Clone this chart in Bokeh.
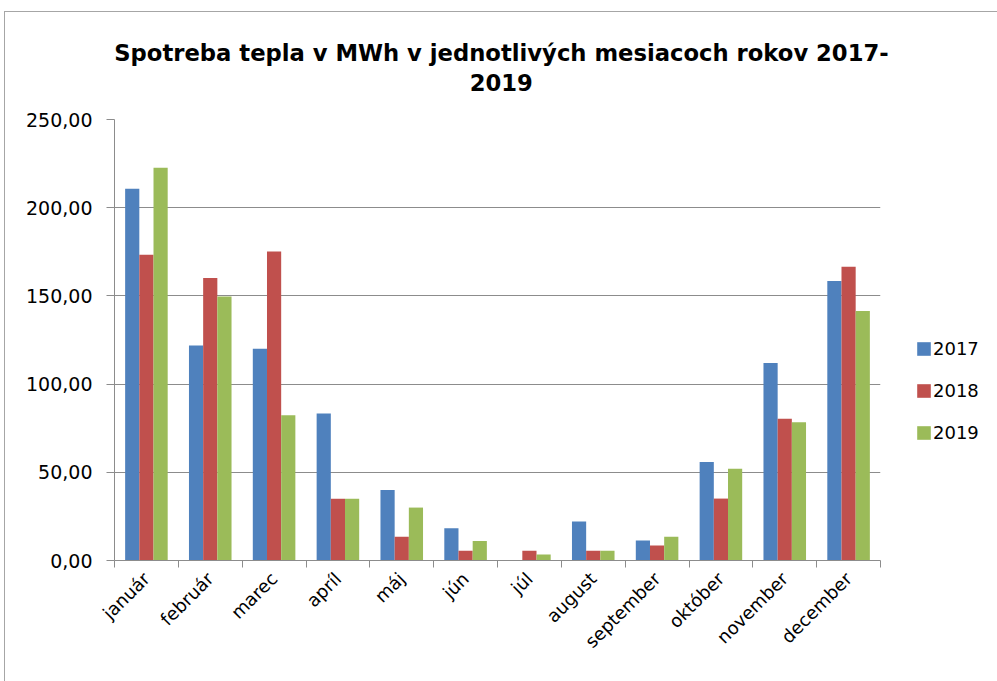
import math
from bokeh.plotting import figure
from bokeh.models import FixedTicker, Range1d, ColumnDataSource, Legend, LegendItem
from bokeh.embed import file_html
from bokeh.resources import INLINE
from bokeh.transform import dodge

months = ["január", "február", "marec", "apríl", "máj", "jún", "júl",
          "august", "september", "október", "november", "december"]
years = ["2017", "2018", "2019"]
v2017 = [210.7, 121.9, 120.0, 83.3, 40.0, 18.3, 0.0, 22.1, 11.3, 55.9, 112.0, 158.5]
v2018 = [173.3, 160.2, 175.2, 35.0, 13.4, 5.5, 5.5, 5.5, 8.5, 35.1, 80.3, 166.5]
v2019 = [222.6, 149.7, 82.4, 35.0, 30.0, 11.1, 3.4, 5.5, 13.4, 52.0, 78.4, 141.5]
y_ticks = [0, 50, 100, 150, 200, 250]
y_tick_labels = ["0,00", "50,00", "100,00", "150,00", "200,00", "250,00"]
colors = ["#4F81BD", "#C0504D", "#9BBB59"]
title_line1 = "Spotreba tepla v MWh v jednotlivých mesiacoch rokov 2017-"
title_line2 = "2019"

pos = [i + 0.5 for i in range(len(months))]
src = ColumnDataSource(dict(x=pos, y2017=v2017, y2018=v2018, y2019=v2019))

FONT = "DejaVu Sans"
GRAY = "#8c8c8c"
NB = "\u00a0"

p = figure(frame_width=766, frame_height=441,
           min_border_left=109, min_border_right=117,
           min_border_top=107, min_border_bottom=121,
           x_range=Range1d(0, len(months)), y_range=Range1d(0, 250),
           output_backend="svg", toolbar_location=None,
           background_fill_color="white", border_fill_color="white")
p.outline_line_color = None
p.styles = {"border-left": "1px solid #a6a6a6", "border-top": "1px solid #a6a6a6",
            "margin-left": "4px", "margin-top": "11px"}

# two-line centred title (second line centred under the first)
p.title.text = NB + title_line1 + "\n" + NB * 46 + title_line2
p.title.text_font = FONT
p.title.text_font_size = "22.7px"
p.title.text_font_style = "bold"
p.title.align = "center"
p.title.text_color = "black"
p.title.text_line_height = 1.14
p.title.standoff = 47

bw = 2.0 / 3.0 / 3.0
offs = [-bw, 0.0, bw]
items = []
for yr, col, off in zip(years, colors, offs):
    r = p.vbar(x=dodge("x", off, range=p.x_range), top="y" + yr, width=bw,
               source=src, fill_color=col, line_color=None)
    items.append(LegendItem(label=yr, renderers=[r]))

# x axis
xa = p.xaxis[0]
xa.ticker = FixedTicker(ticks=pos, minor_ticks=list(range(len(months) + 1)))
xa.major_label_overrides = {p_: m for p_, m in zip(pos, months)}
xa.major_tick_line_color = None
xa.minor_tick_line_color = GRAY
xa.minor_tick_in = 0
xa.minor_tick_out = 7
xa.axis_line_color = GRAY
xa.major_label_orientation = math.pi / 4
xa.major_label_text_font = FONT
xa.major_label_text_font_size = "18px"
xa.major_label_text_color = "black"
xa.major_label_standoff = 8

# y axis
ya = p.yaxis[0]
ya.ticker = FixedTicker(ticks=y_ticks, minor_ticks=[])
ya.major_label_overrides = {t: l for t, l in zip(y_ticks, y_tick_labels)}
ya.major_tick_line_color = GRAY
ya.major_tick_in = 0
ya.major_tick_out = 8
ya.minor_tick_line_color = None
ya.axis_line_color = GRAY
ya.major_label_text_font = FONT
ya.major_label_text_font_size = "19px"
ya.major_label_text_color = "black"
ya.major_label_standoff = 14

p.xgrid.grid_line_color = None
p.ygrid.grid_line_color = GRAY
p.ygrid.ticker = FixedTicker(ticks=y_ticks)

lg = Legend(items=items, location=(35, 117))
lg.padding = 0
lg.margin = 0
lg.border_line_color = None
lg.background_fill_alpha = 0
lg.glyph_width = 17
lg.glyph_height = 17
lg.label_height = 20
lg.spacing = 21
lg.label_standoff = 1
lg.label_text_font = FONT
lg.label_text_font_size = "18px"
lg.label_text_color = "black"
p.add_layout(lg, "right")

open("out.html", "w").write(file_html(p, INLINE))
